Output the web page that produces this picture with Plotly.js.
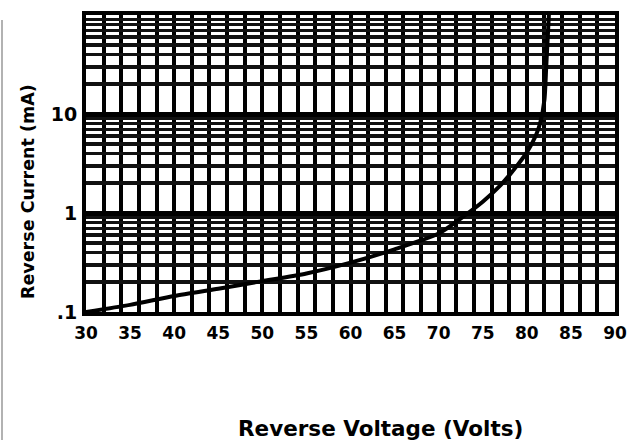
<!DOCTYPE html>
<html>
<head>
<meta charset="utf-8">
<script src="https://cdn.plot.ly/plotly-3.0.1.min.js"></script>
<style>html,body{margin:0;padding:0;background:#fff;}#chart{width:628px;height:441px;}</style>
</head>
<body>
<div id="chart"></div>
<script>
// Reverse voltage (V) and reverse current (mA)
const voltage = [30, 35, 40, 45, 50, 55, 60, 65, 70, 73, 75, 77, 78, 79, 80, 81, 81.5, 82, 82.2, 82.5];
const current = [0.1, 0.118, 0.145, 0.172, 0.205, 0.245, 0.315, 0.43, 0.62, 0.95, 1.3, 1.9, 2.4, 3.1, 4.1, 6, 8, 14, 30, 100];
const xTickVals = [30, 35, 40, 45, 50, 55, 60, 65, 70, 75, 80, 85, 90];
const yTickVals = [0.1, 1, 10];
const yTickText = ['.1', '1', '10'];
const xTitle = 'Reverse Voltage (Volts)';
const yTitle = 'Reverse Current (mA)';

const font = "'DejaVu Sans', 'Liberation Sans', Arial, sans-serif";
const trace = {
  x: voltage, y: current, type: 'scatter', mode: 'lines',
  line: {color: '#000', width: 4, shape: 'spline', smoothing: 0.6},
  hoverinfo: 'skip'
};
const layout = {
  width: 628, height: 441,
  margin: {l: 86, r: 13, t: 15, b: 129},
  paper_bgcolor: '#fff', plot_bgcolor: '#fff',
  showlegend: false,
  font: {family: font, color: '#000'},
  xaxis: {
    range: [30, 90], tickvals: xTickVals, ticks: '', showgrid: false,
    tickfont: {family: font, size: 17, color: '#000', weight: 'bold'},
    showline: true, linecolor: '#000', linewidth: 4, mirror: true,
    zeroline: false, ticklabelstandoff: 3, ticklabeloverflow: 'allow',
    minor: {tick0: 30, dtick: 2, showgrid: true, gridcolor: '#000', gridwidth: 4, ticks: ''}
  },
  yaxis: {
    type: 'log', range: [-1, 2], tickvals: yTickVals, ticktext: yTickText, ticks: '',
    showgrid: true, gridcolor: '#000', gridwidth: 5,
    tickfont: {family: font, size: 19, color: '#000', weight: 'bold'},
    showline: true, linecolor: '#000', linewidth: 4, mirror: true,
    zeroline: false, ticklabelstandoff: 1,
    minor: {dtick: 'D1', showgrid: true, gridcolor: '#111', gridwidth: 3.5, ticks: ''}
  },
  annotations: [
    {text: xTitle, xref: 'paper', yref: 'paper', x: (380 - 86) / 529, y: -(428 - 312) / 297,
     xanchor: 'center', yanchor: 'middle', showarrow: false,
     font: {family: font, size: 21.5, color: '#000', weight: 'bold'}},
    {text: yTitle, xref: 'paper', yref: 'paper', x: (28 - 86) / 529, y: (312 - 192) / 297,
     xanchor: 'center', yanchor: 'middle', showarrow: false, textangle: -90,
     font: {family: font, size: 17.5, color: '#000', weight: 'bold'}}
  ],
  shapes: [
    {type: 'line', xref: 'paper', yref: 'paper', x0: (2 - 86) / 529, x1: (2 - 86) / 529,
     y0: (312 - 440) / 297, y1: (312 - 20) / 297, line: {color: '#999', width: 1.5}}
  ]
};
Plotly.newPlot('chart', [trace], layout, {staticPlot: true, displayModeBar: false});
</script>
</body>
</html>
